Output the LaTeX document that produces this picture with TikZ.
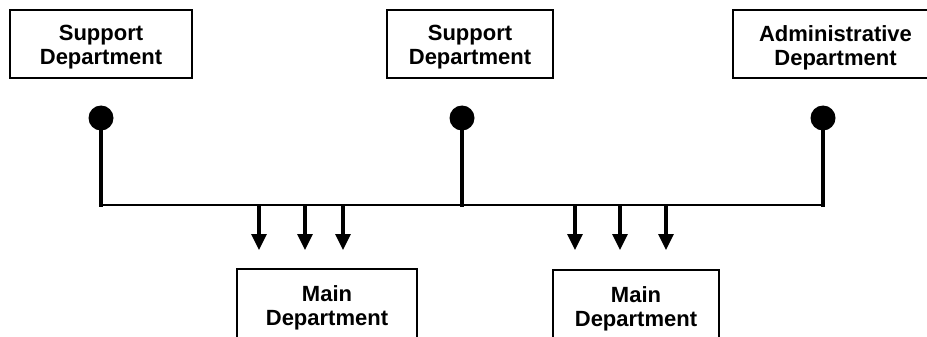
\documentclass[tikz,border=0pt]{standalone}
\usepackage{fontspec}
\setmainfont{Liberation Sans}
\usetikzlibrary{arrows.meta,calc}
\begin{document}
\begin{tikzpicture}[x=1pt,y=-1pt,
  dept/.style={draw=black, line width=1.7pt, rectangle, inner sep=0pt},
  lbl/.style={font=\fontsize{22}{24}\selectfont\bfseries, align=center, inner sep=0pt, anchor=north},
  dot/.style={circle, fill=black, inner sep=0pt, minimum size=25pt},
  stem/.style={line width=3.6pt, line cap=rect},
  bus/.style={line width=2.4pt},
  flow/.style={line width=3.2pt, -{Triangle[width=15pt,length=16pt]}}]
\useasboundingbox (0,0) rectangle (927,337);
\clip (0,0) rectangle (927,337);

% department boxes along the top
\node[dept, minimum width=182pt, minimum height=68pt] (s1) at (101,44) {};
\node[dept, minimum width=166pt, minimum height=68pt] (s2) at (470,44) {};
\node[dept, minimum width=205pt, minimum height=68pt] (ad) at (835.5,44) {};
\node[lbl] (s1t) at ($(s1.north)+(0,16)$) {Support\\Department};
\node[lbl] (s2t) at ($(s2.north)+(0,16)$) {Support\\Department};
\node[lbl] (adt) at ($(ad.north)+(0,16)$) {Administrative\\Department};

% main department boxes at the bottom
\node[dept, minimum width=180pt, minimum height=140pt] (m1) at (327,339) {};
\node[dept, minimum width=166pt, minimum height=140pt] (m2) at (636,340) {};
\node[lbl] (m1t) at ($(m1.north)+(0,17)$) {Main\\Department};
\node[lbl] (m2t) at ($(m2.north)+(0,17)$) {Main\\Department};

% source points and the common bus
\node[dot] (d1) at (101,118) {};
\node[dot] (d2) at (462,118) {};
\node[dot] (d3) at (823,118) {};
\coordinate (j1) at (101,205);
\coordinate (j2) at (462,205);
\coordinate (j3) at (823,205);
\draw[bus] (j1) -- (j3);
\draw[stem] (d1.center) -- (j1);
\draw[stem] (d2.center) -- (j2);
\draw[stem] (d3.center) -- (j3);

% allocation arrows
\foreach \x [count=\i] in {259,305,343,575,620,666} {
  \coordinate (f\i) at (\x,205);
  \coordinate (g\i) at (\x,250);
  \draw[flow] (f\i) -- (g\i);
}
\end{tikzpicture}
\end{document}
